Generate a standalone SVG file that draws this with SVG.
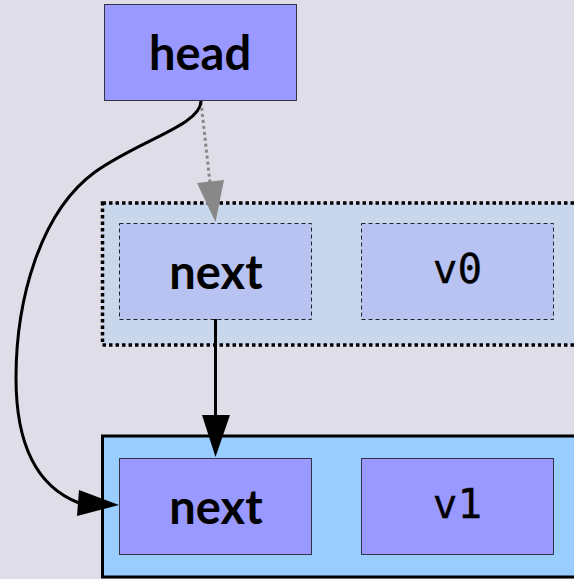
<svg xmlns="http://www.w3.org/2000/svg" width="574" height="579" viewBox="0 0 574 579">
<style>
.lbl{font-family:Lato,"Open Sans","DejaVu Sans",sans-serif;font-size:47px;font-weight:bold;fill:#000;text-anchor:middle}
.mono{font-family:"DejaVu Sans Mono","Liberation Mono",monospace;font-size:41px;fill:#000;stroke:#000;stroke-width:0.3;text-anchor:middle}
.solid{fill:#9999ff;stroke:#333344;stroke-width:1}
.ghost{fill:#b9c3f2;stroke:#222;stroke-width:1;stroke-dasharray:4,3}
.edge{fill:none;stroke:#000;stroke-width:3}
</style>
<rect x="0" y="0" width="574" height="579" fill="#dfdde8"/>
<g id="head">
<rect class="solid" x="104.5" y="4.5" width="192" height="96"/>
<text class="lbl" x="200" y="70">head</text>
</g>
<g id="node0">
<rect x="102.5" y="203" width="480" height="142" fill="#c8d7ec" stroke="#000" stroke-width="3.5" stroke-dasharray="3.5,3"/>
<g id="node0-next">
<rect class="ghost" x="119.5" y="223.5" width="192" height="96"/>
<text class="lbl" x="216" y="289">next</text>
</g>
<g id="node0-val">
<rect class="ghost" x="361.5" y="223.5" width="192" height="96"/>
<text class="mono" x="457.5" y="282.5">v0</text>
</g>
</g>
<g id="node1">
<rect x="102.5" y="436" width="480" height="141" fill="#99ccff" stroke="#000" stroke-width="3"/>
<g id="node1-next">
<rect class="solid" x="119.5" y="458.5" width="192" height="96"/>
<text class="lbl" x="216" y="524">next</text>
</g>
<g id="node1-val">
<rect class="solid" x="361.5" y="458.5" width="192" height="96"/>
<text class="mono" x="457.5" y="517.5">v1</text>
</g>
</g>
<g id="connectors">
<path d="M201,102 L210,183" fill="none" stroke="#888" stroke-width="3" stroke-dasharray="3,3"/>
<polygon points="197,183 224,180 215.5,222" fill="#888"/>
<path class="edge" d="M215.5,319 L215.5,416"/>
<polygon points="202,415 230,415 215.5,457" fill="#000"/>
<path class="edge" d="M201,101 C201,125 140,140 95,172 C40,212 16,300 16,378 C16,450 40,488 79,503"/>
<polygon points="79,490 77,516 119,505" fill="#000"/>
</g>
</svg>
